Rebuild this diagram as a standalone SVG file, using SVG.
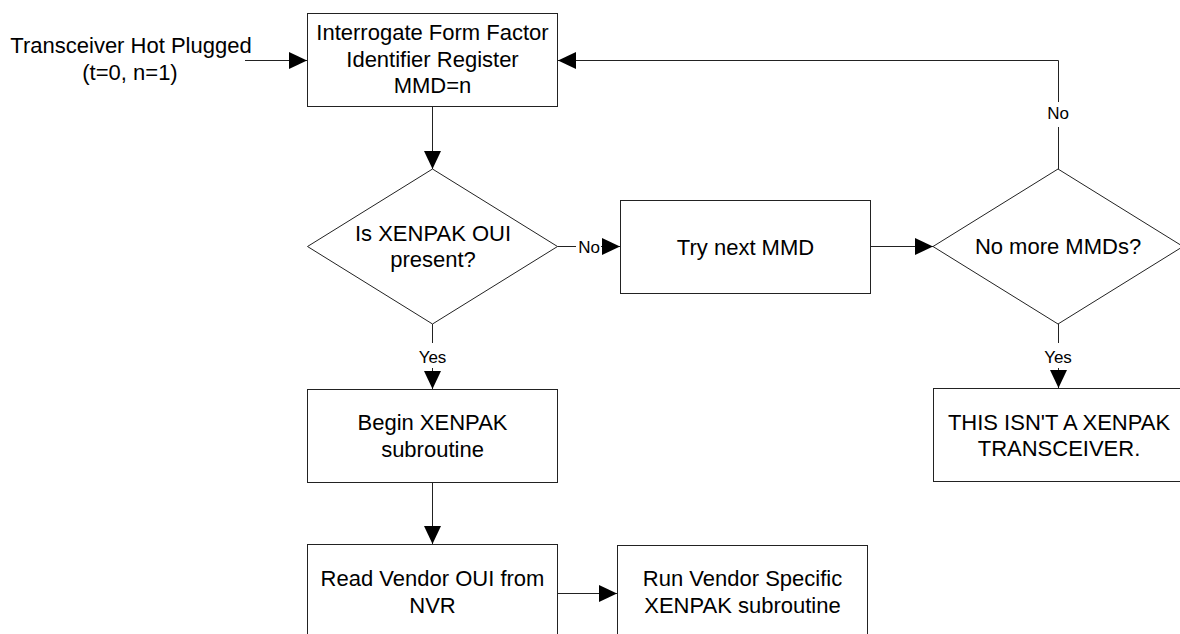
<svg xmlns="http://www.w3.org/2000/svg" width="1180" height="634" viewBox="0 0 1180 634">
<style>
.box{fill:#fff;stroke:#222;stroke-width:1}
.t{font-family:"Liberation Sans",Arial,sans-serif;font-size:22px;fill:#000;text-anchor:middle}
.lbl{font-family:"Liberation Sans",Arial,sans-serif;font-size:17px;fill:#000;text-anchor:middle}
.c{fill:none;stroke:#222;stroke-width:1}
.ca{fill:none;stroke:#222;stroke-width:1;marker-end:url(#ah)}
</style>
<defs>
<marker id="ah" markerUnits="userSpaceOnUse" markerWidth="18" markerHeight="17" refX="18" refY="8.5" orient="auto">
<path d="M0,0 L18,8.5 L0,17 z" fill="#000"/>
</marker>
</defs>
<rect width="1180" height="634" fill="#fff"/>
<g id="start">
<text class="t" x="131" y="53">Transceiver Hot Plugged</text>
<text class="t" x="130" y="80">(t=0, n=1)</text>
</g>
<g id="interrogate">
<rect class="box" x="307.5" y="13.5" width="250" height="93"/>
<text class="t" x="432.5" y="40">Interrogate Form Factor</text>
<text class="t" x="432.5" y="67">Identifier Register</text>
<text class="t" x="432.5" y="93">MMD=n</text>
</g>
<g id="isxenpak">
<polygon class="box" points="432.5,169 557.5,246.5 432.5,324 307.5,246.5"/>
<text class="t" x="433" y="241">Is XENPAK OUI</text>
<text class="t" x="433" y="267">present?</text>
</g>
<g id="trynext">
<rect class="box" x="620.5" y="200.5" width="250" height="93"/>
<text class="t" x="745.5" y="255">Try next MMD</text>
</g>
<g id="nomore">
<polygon class="box" points="1058,169 1183,246.5 1058,324 933,246.5"/>
<text class="t" x="1058" y="254">No more MMDs?</text>
</g>
<g id="notxenpak">
<rect class="box" x="933.5" y="388.5" width="250" height="93"/>
<text class="t" x="1059" y="430">THIS ISN'T A XENPAK</text>
<text class="t" x="1059" y="456">TRANSCEIVER.</text>
</g>
<g id="begin">
<rect class="box" x="307.5" y="389.5" width="250" height="93"/>
<text class="t" x="432.5" y="430">Begin XENPAK</text>
<text class="t" x="432.5" y="457">subroutine</text>
</g>
<g id="readvendor">
<rect class="box" x="307.5" y="544.5" width="250" height="93"/>
<text class="t" x="432.5" y="586">Read Vendor OUI from</text>
<text class="t" x="432.5" y="613">NVR</text>
</g>
<g id="runvendor">
<rect class="box" x="617.5" y="545.5" width="250" height="93"/>
<text class="t" x="742.5" y="586">Run Vendor Specific</text>
<text class="t" x="742.5" y="613">XENPAK subroutine</text>
</g>
<g id="connectors">
<path class="ca" d="M245,60.5 H307"/>
<path class="ca" d="M432.5,106.5 V169"/>
<path class="c" d="M557.5,246.5 H576"/>
<path class="ca" d="M601,246.5 H620"/>
<text class="lbl" x="589" y="253">No</text>
<path class="ca" d="M870.5,246.5 H933"/>
<path class="c" d="M1058.5,169 V127"/>
<path class="ca" d="M1058.5,102 V60.5 H558"/>
<text class="lbl" x="1058" y="119">No</text>
<path class="c" d="M1058.5,324 V343"/>
<path class="ca" d="M1058.5,368 V388"/>
<text class="lbl" x="1058" y="363">Yes</text>
<path class="c" d="M432.5,324 V343"/>
<path class="ca" d="M432.5,368 V389"/>
<text class="lbl" x="432.5" y="363">Yes</text>
<path class="ca" d="M432.5,482.5 V544"/>
<path class="ca" d="M557.5,593.5 H617"/>
</g>
</svg>
